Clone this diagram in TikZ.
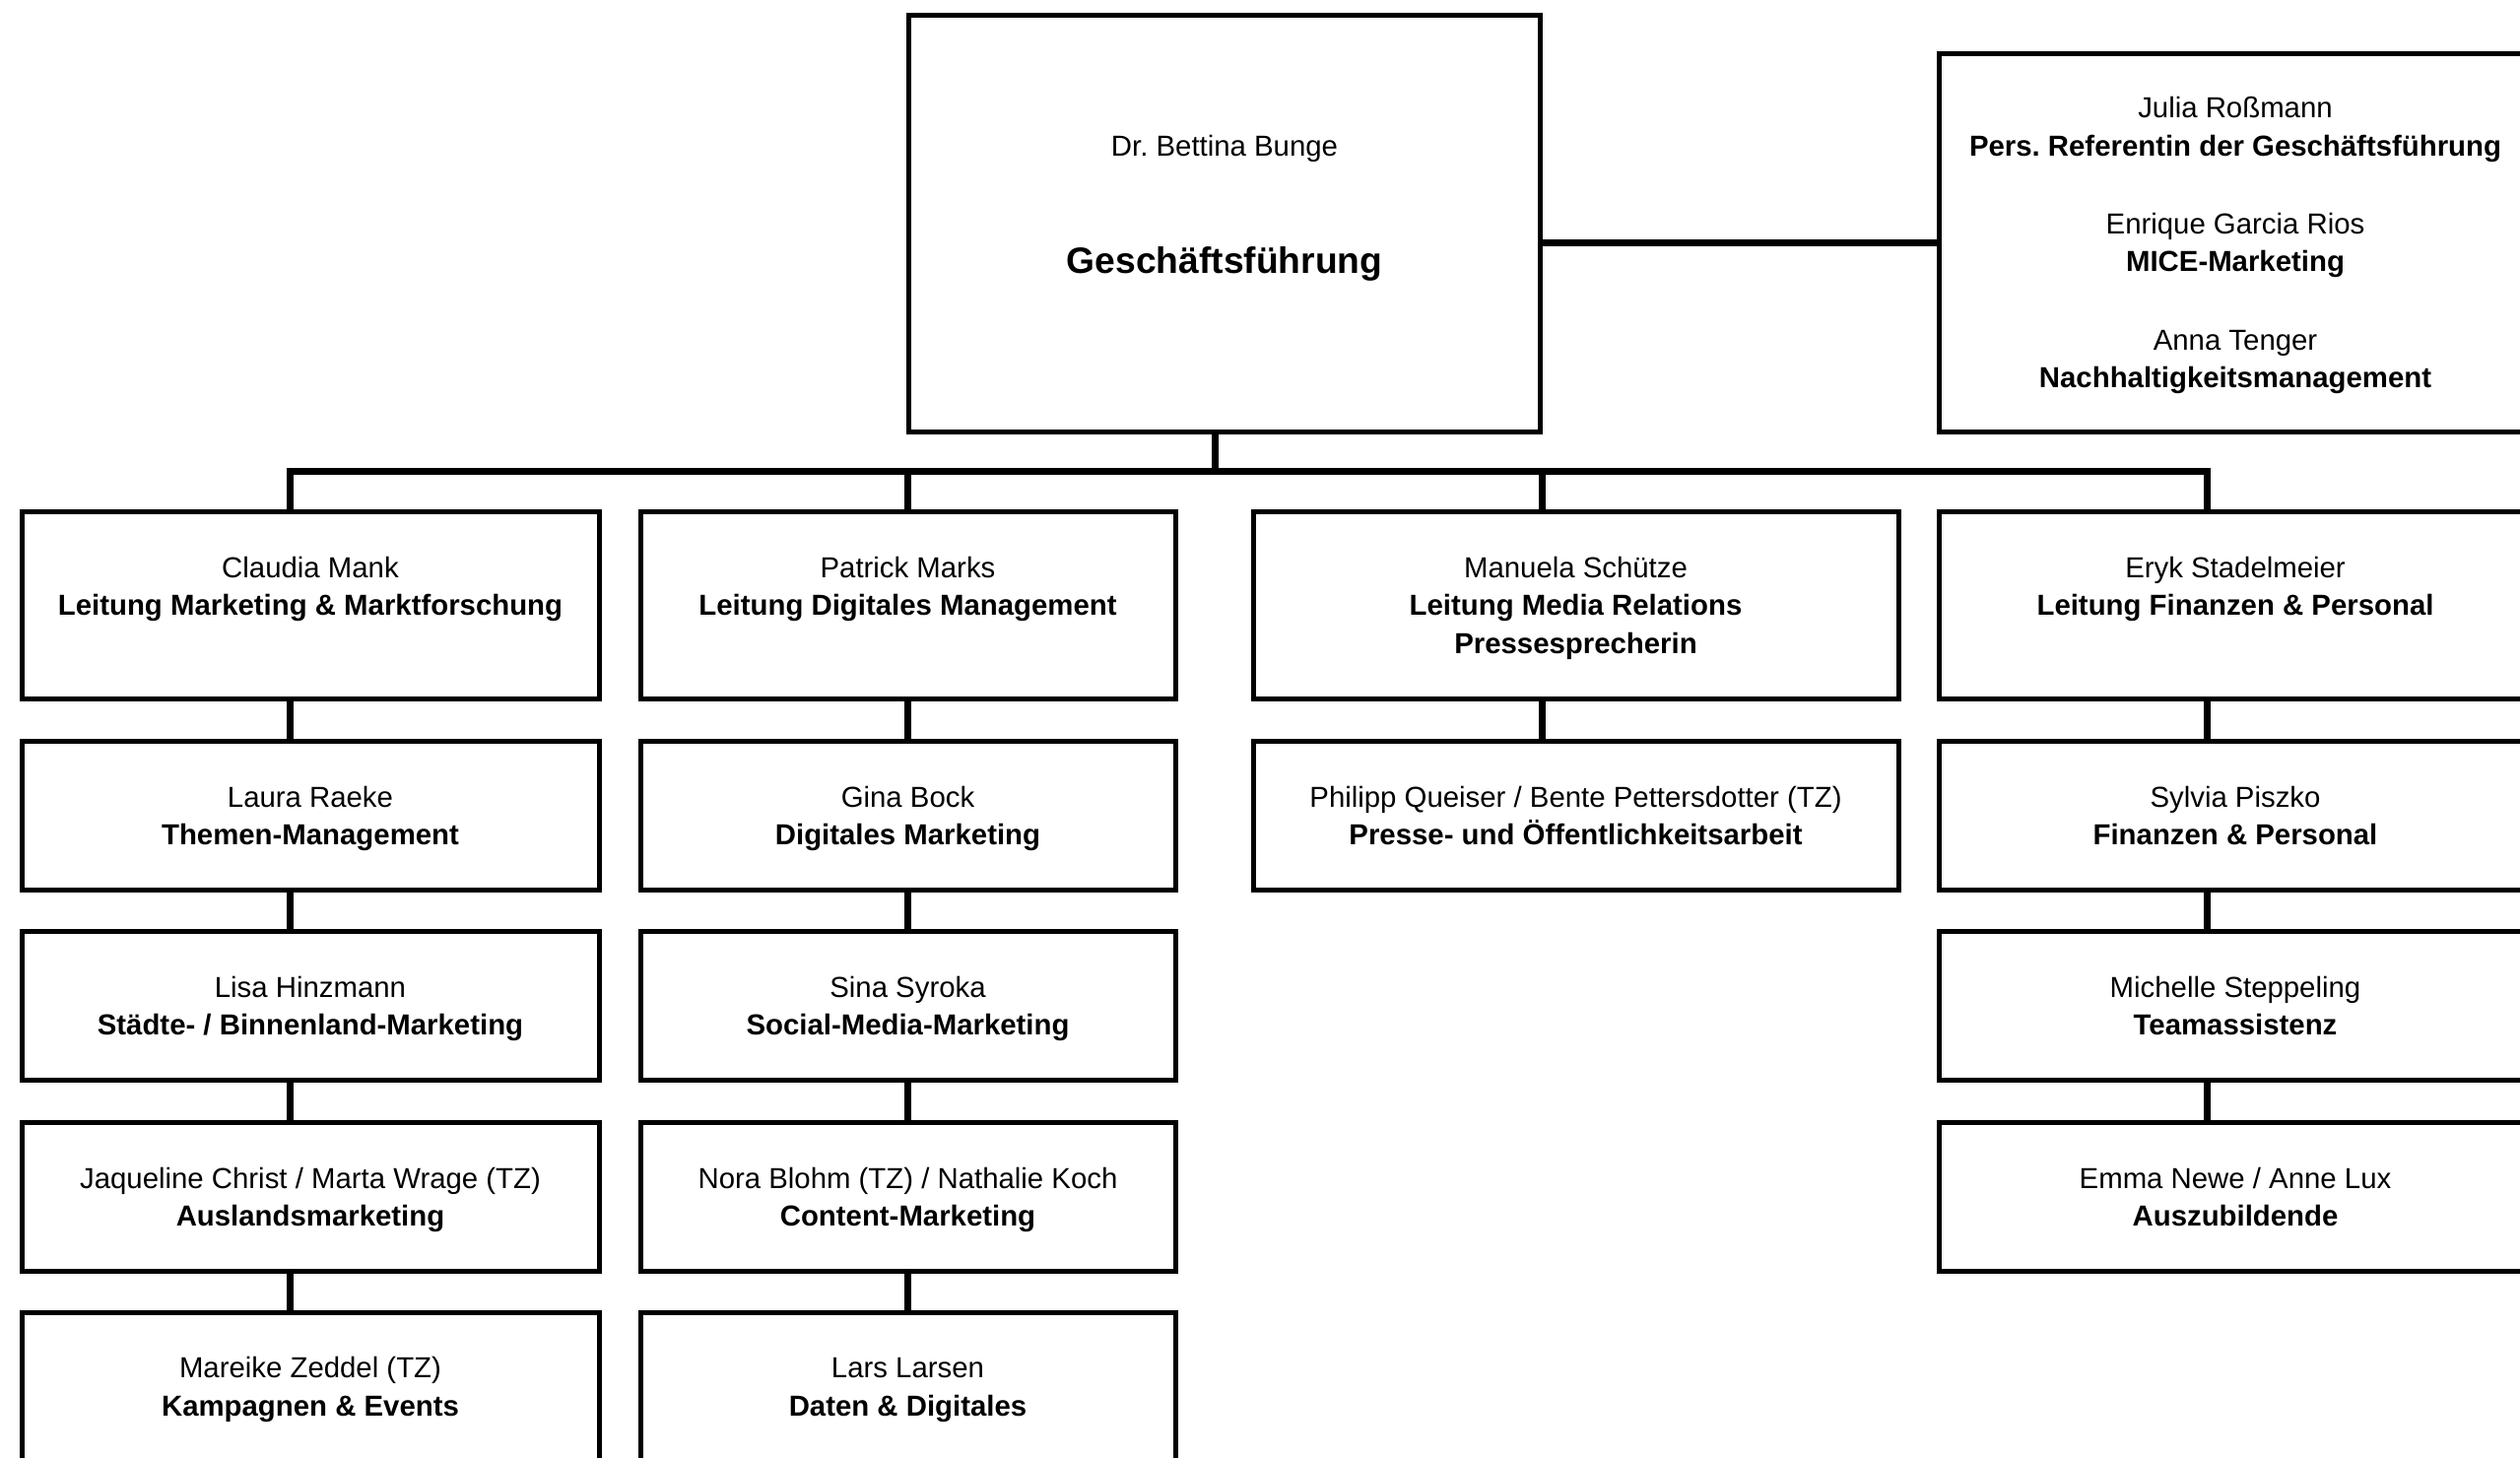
\documentclass[tikz,border=0pt]{standalone}
\usepackage{fontspec}
\setmainfont{Liberation Sans}
\frenchspacing
\newcommand\fsn{\fontsize{7.34pt}{9.6pt}\selectfont}
\newcommand\fst{\fontsize{9.3pt}{11pt}\selectfont\bfseries}
\newcommand\sx{\rule[-1.65pt]{0pt}{8.65pt}}
\begin{document}
\begin{tikzpicture}[x=0.25pt,y=-0.25pt,
  box/.style={draw, line width=1.25pt, align=center, inner sep=0pt, font=\fsn},
  cell/.style 2 args={minimum width=#1*0.25pt, minimum height=#2*0.25pt},
  conn/.style={line width=1.75pt},
  txt/.style={inner sep=0pt, anchor=base}]
\useasboundingbox (0,0) rectangle (2558,1479);
\clip (0,0) rectangle (2558,1479);
% top
\node[box, cell={641}{423}] (top) at (1242.5,226.5) {};
\node[txt, font=\fsn] (topname) at (1243,158) {Dr. Bettina Bunge};
\node[txt, font=\fst] (toptitle) at (1243,277) {Geschäftsführung};
% staff box
\node[box, cell={602}{384}] (right) at (2269,246) {\sx Julia Roßmann\\\textbf{Pers. Referentin der Geschäftsführung}\\[10.2pt]Enrique Garcia Rios\\\textbf{MICE-Marketing}\\[10.2pt]Anna Tenger\\\textbf{Nachhaltigkeitsmanagement}\sx};
% column 1
\node[box, cell={586}{190}] (a1) at (315,614) {\sx Claudia Mank\\\textbf{Leitung Marketing \& Marktforschung}\\\sx};
\node[box, cell={586}{151}] (a2) at (315,827.5) {\sx Laura Raeke\\\textbf{Themen-Management}\sx};
\node[box, cell={586}{151}] (a3) at (315,1020.5) {\sx Lisa Hinzmann\\\textbf{Städte- / Binnenland-Marketing}\sx};
\node[box, cell={586}{151}] (a4) at (315,1214.5) {\sx Jaqueline Christ / Marta Wrage (TZ)\\\textbf{Auslandsmarketing}\sx};
\node[box, cell={586}{189}] (a5) at (315,1426.5) {\sx Mareike Zeddel (TZ)\\\textbf{Kampagnen \& Events}\\\sx};
% column 2
\node[box, cell={543}{190}] (b1) at (921.5,614) {\sx Patrick Marks\\\textbf{Leitung Digitales Management}\\\sx};
\node[box, cell={543}{151}] (b2) at (921.5,827.5) {\sx Gina Bock\\\textbf{Digitales Marketing}\sx};
\node[box, cell={543}{151}] (b3) at (921.5,1020.5) {\sx Sina Syroka\\\textbf{Social-Media-Marketing}\sx};
\node[box, cell={543}{151}] (b4) at (921.5,1214.5) {\sx Nora Blohm (TZ) / Nathalie Koch\\\textbf{Content-Marketing}\sx};
\node[box, cell={543}{189}] (b5) at (921.5,1426.5) {\sx Lars Larsen\\\textbf{Daten \& Digitales}\\\sx};
% column 3
\node[box, cell={655}{190}] (c1) at (1599.5,614) {\sx Manuela Schütze\\\textbf{Leitung Media Relations}\\\textbf{Pressesprecherin}\sx};
\node[box, cell={655}{151}] (c2) at (1599.5,827.5) {\sx Philipp Queiser / Bente Pettersdotter (TZ)\\\textbf{Presse- und Öffentlichkeitsarbeit}\sx};
% column 4
\node[box, cell={602}{190}] (d1) at (2269,614) {\sx Eryk Stadelmeier\\\textbf{Leitung Finanzen \& Personal}\\\sx};
\node[box, cell={602}{151}] (d2) at (2269,827.5) {\sx Sylvia Piszko\\\textbf{Finanzen \& Personal}\sx};
\node[box, cell={602}{151}] (d3) at (2269,1020.5) {\sx Michelle Steppeling\\\textbf{Teamassistenz}\sx};
\node[box, cell={602}{151}] (d4) at (2269,1214.5) {\sx Emma Newe / Anne Lux\\\textbf{Auszubildende}\sx};
% connectors
\coordinate (b0) at (1233,478);
\coordinate (k1) at (294,478);
\coordinate (k2) at (921,478);
\coordinate (k3) at (1565,478);
\coordinate (k4) at (2240,478);
\draw[conn, line cap=rect] (k1) -- (k4);
\draw[conn] (top.south -| b0) -- (b0);
\draw[conn] (top.east |- right.west) -- (right.west);
\draw[conn] (k1) -- (k1 |- a1.north);
\draw[conn] (k2) -- (k2 |- b1.north);
\draw[conn] (k3) -- (k3 |- c1.north);
\draw[conn] (k4) -- (k4 |- d1.north);
\foreach \u/\v in {a1/a2,a2/a3,a3/a4,a4/a5}{\draw[conn] (k1 |- \u.south) -- (k1 |- \v.north);}
\foreach \u/\v in {b1/b2,b2/b3,b3/b4,b4/b5}{\draw[conn] (k2 |- \u.south) -- (k2 |- \v.north);}
\draw[conn] (k3 |- c1.south) -- (k3 |- c2.north);
\foreach \u/\v in {d1/d2,d2/d3,d3/d4}{\draw[conn] (k4 |- \u.south) -- (k4 |- \v.north);}
\end{tikzpicture}
\end{document}
